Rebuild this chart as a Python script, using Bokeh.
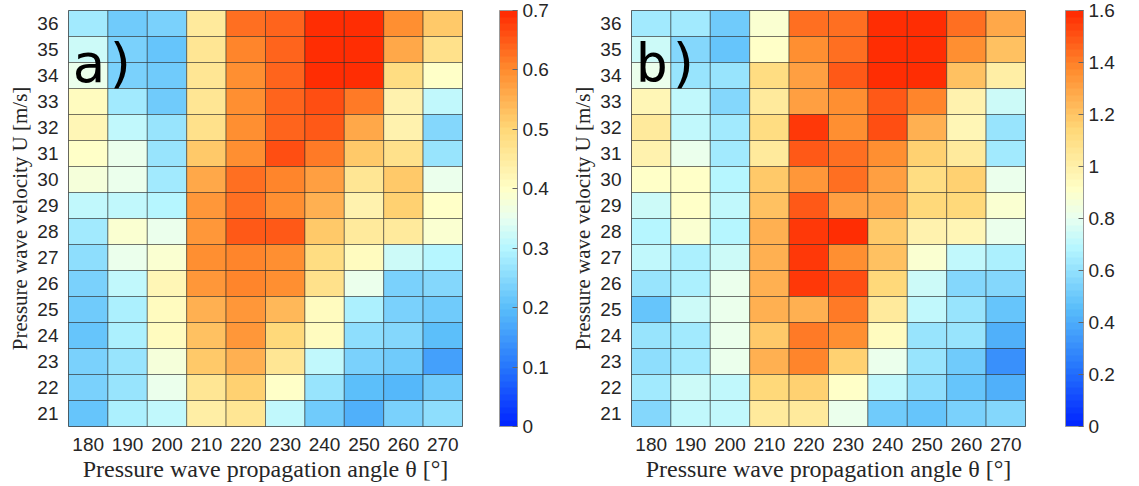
from bokeh.plotting import figure
from bokeh.models import (LinearColorMapper, ColorBar, FixedTicker, CustomJSTickFormatter,
                          Label, ColumnDataSource)
from bokeh.layouts import row
from bokeh.embed import file_html
from bokeh.resources import INLINE

# ---------------- data ----------------
angles = [180, 190, 200, 210, 220, 230, 240, 250, 260, 270]
velocities = [36, 35, 34, 33, 32, 31, 30, 29, 28, 27, 26, 25, 24, 23, 22, 21]  # top -> bottom

# panel a) rows follow `velocities` order, columns follow `angles`
a_values = [
    [0.28, 0.22, 0.23, 0.45, 0.63, 0.64, 0.69, 0.69, 0.60, 0.52],
    [0.32, 0.24, 0.21, 0.46, 0.61, 0.645, 0.69, 0.69, 0.56, 0.48],
    [0.36, 0.24, 0.22, 0.46, 0.60, 0.64, 0.70, 0.69, 0.49, 0.40],
    [0.41, 0.28, 0.22, 0.46, 0.60, 0.64, 0.66, 0.62, 0.43, 0.31],
    [0.42, 0.31, 0.27, 0.48, 0.60, 0.64, 0.65, 0.56, 0.43, 0.25],
    [0.40, 0.35, 0.27, 0.52, 0.60, 0.66, 0.62, 0.52, 0.48, 0.27],
    [0.38, 0.36, 0.28, 0.56, 0.63, 0.61, 0.57, 0.47, 0.52, 0.36],
    [0.31, 0.31, 0.30, 0.59, 0.63, 0.60, 0.55, 0.43, 0.51, 0.40],
    [0.28, 0.39, 0.36, 0.59, 0.65, 0.65, 0.52, 0.45, 0.45, 0.39],
    [0.26, 0.35, 0.39, 0.60, 0.61, 0.60, 0.49, 0.41, 0.32, 0.30],
    [0.23, 0.31, 0.42, 0.59, 0.61, 0.60, 0.48, 0.35, 0.24, 0.25],
    [0.22, 0.29, 0.41, 0.55, 0.59, 0.54, 0.41, 0.29, 0.24, 0.22],
    [0.21, 0.29, 0.41, 0.53, 0.59, 0.50, 0.41, 0.26, 0.25, 0.20],
    [0.24, 0.27, 0.38, 0.52, 0.55, 0.47, 0.31, 0.24, 0.22, 0.16],
    [0.23, 0.27, 0.36, 0.47, 0.51, 0.40, 0.27, 0.20, 0.19, 0.22],
    [0.21, 0.29, 0.31, 0.44, 0.47, 0.31, 0.22, 0.18, 0.23, 0.26],
]

# panel b)
b_values = [
    [0.64, 0.64, 0.50, 0.89, 1.44, 1.44, 1.60, 1.59, 1.44, 1.28],
    [0.73, 0.57, 0.48, 0.92, 1.35, 1.44, 1.59, 1.58, 1.37, 1.21],
    [0.82, 0.62, 0.62, 1.10, 1.30, 1.49, 1.59, 1.58, 1.21, 1.01],
    [0.96, 0.71, 0.57, 1.03, 1.30, 1.37, 1.49, 1.39, 0.98, 0.73],
    [1.03, 0.71, 0.64, 1.10, 1.55, 1.37, 1.50, 1.26, 0.96, 0.62],
    [0.99, 0.80, 0.64, 1.03, 1.49, 1.44, 1.35, 1.17, 1.03, 0.64],
    [0.91, 0.91, 0.69, 1.19, 1.33, 1.44, 1.30, 1.12, 1.17, 0.80],
    [0.73, 0.91, 0.71, 1.21, 1.49, 1.32, 1.28, 1.14, 1.14, 0.89],
    [0.69, 0.89, 0.69, 1.26, 1.55, 1.60, 1.19, 0.98, 0.97, 0.82],
    [0.70, 0.65, 0.73, 1.26, 1.55, 1.35, 1.21, 0.89, 0.70, 0.65],
    [0.60, 0.65, 0.80, 1.26, 1.55, 1.50, 1.14, 0.73, 0.55, 0.55],
    [0.48, 0.73, 0.80, 1.26, 1.26, 1.42, 1.03, 0.71, 0.60, 0.49],
    [0.60, 0.63, 0.80, 1.19, 1.42, 1.35, 0.94, 0.60, 0.60, 0.40],
    [0.59, 0.64, 0.80, 1.26, 1.39, 1.17, 0.82, 0.60, 0.51, 0.30],
    [0.63, 0.73, 0.70, 1.14, 1.17, 0.90, 0.71, 0.58, 0.48, 0.40],
    [0.55, 0.70, 0.70, 1.03, 1.04, 0.82, 0.51, 0.48, 0.53, 0.55],
]

a_ticks = [0, 0.1, 0.2, 0.3, 0.4, 0.5, 0.6, 0.7]
b_ticks = [0, 0.2, 0.4, 0.6, 0.8, 1.0, 1.2, 1.4, 1.6]

# ---------------- colour map ----------------
stops = [
    (0.000, (0, 34, 255)),
    (0.143, (38, 118, 252)),
    (0.286, (90, 190, 250)),
    (0.430, (182, 246, 255)),
    (0.500, (232, 255, 240)),
    (0.570, (255, 255, 200)),
    (0.714, (255, 216, 120)),
    (0.857, (255, 140, 46)),
    (1.000, (255, 40, 0)),
]


def make_palette(n=64):
    pal = []
    for i in range(n):
        f = (i + 0.5) / n
        for (f0, c0), (f1, c1) in zip(stops[:-1], stops[1:]):
            if f0 <= f <= f1:
                t = (f - f0) / (f1 - f0)
                c = [round(c0[k] + t * (c1[k] - c0[k])) for k in range(3)]
                pal.append("#%02x%02x%02x" % tuple(c))
                break
    return pal


PALETTE = make_palette(64)
TXT = "#262626"
FRAME_H = 416


def panel(values, vmax, ticks, tag, border_left, cb_offset):
    xs, ys, vs = [], [], []
    for r, vel in enumerate(velocities):
        for c, ang in enumerate(angles):
            xs.append(ang)
            ys.append(vel)
            vs.append(values[r][c])
    src = ColumnDataSource(dict(x=xs, y=ys, v=vs))

    p = figure(frame_width=394, frame_height=FRAME_H,
               x_range=(175, 275), y_range=(20.5, 36.5),
               output_backend="svg", toolbar_location=None,
               min_border_left=border_left, min_border_top=10, min_border_bottom=48,
               min_border_right=0)
    mapper = LinearColorMapper(palette=PALETTE, low=0, high=vmax)
    p.rect(x="x", y="y", width=10, height=1, source=src,
           fill_color={"field": "v", "transform": mapper},
           line_color="#1a1a1a", line_alpha=0.6, line_width=0.8)

    p.grid.visible = False
    p.outline_line_color = "#555555"
    p.outline_line_width = 1

    p.xaxis.ticker = FixedTicker(ticks=angles)
    p.yaxis.ticker = FixedTicker(ticks=velocities)
    for ax in (p.xaxis, p.yaxis):
        ax.axis_line_color = None
        ax.major_tick_line_color = None
        ax.minor_tick_line_color = None
        ax.major_label_text_font = "Liberation Sans"
        ax.major_label_text_font_size = "19px"
        ax.major_label_text_color = TXT
        ax.axis_label_text_font = "Liberation Serif"
        ax.axis_label_text_font_style = "normal"
        ax.axis_label_text_color = TXT
    p.xaxis.axis_label_text_font_size = "24px"
    p.yaxis.axis_label_text_font_size = "21px"
    p.xaxis.major_label_standoff = 5
    p.yaxis.major_label_standoff = 4
    p.xaxis.axis_label = "Pressure wave propagation angle θ [°]"
    p.yaxis.axis_label = "Pressure wave velocity U [m/s]"
    p.xaxis.axis_label_standoff = 2
    p.yaxis.axis_label_standoff = 2

    cb = ColorBar(color_mapper=mapper, width=18, height=FRAME_H, padding=0, margin=0,
                  location=(cb_offset, 0),
                  ticker=FixedTicker(ticks=ticks),
                  formatter=CustomJSTickFormatter(code="return (Math.round(tick*10)/10).toString();"),
                  major_tick_in=5, major_tick_out=0, major_tick_line_color="#666666",
                  minor_tick_line_color=None,
                  bar_line_color="#999999",
                  major_label_text_font="Liberation Sans",
                  major_label_text_font_size="19px",
                  major_label_text_color=TXT,
                  label_standoff=5,
                  background_fill_color=None,
                  border_line_color=None)
    p.add_layout(cb, "right")

    p.add_layout(Label(x=176.0, y=34.45, text=tag, text_font="DejaVu Sans Mono",
                       text_font_style="normal", text_font_size="54px",
                       text_baseline="middle", text_color="#000000"))
    return p


p1 = panel(a_values, 0.7, a_ticks, "a)", 68, 37)
p2 = panel(b_values, 1.6, b_ticks, "b)", 80, 40)
layout = row(p1, p2)

open("out.html", "w").write(file_html(layout, INLINE))
